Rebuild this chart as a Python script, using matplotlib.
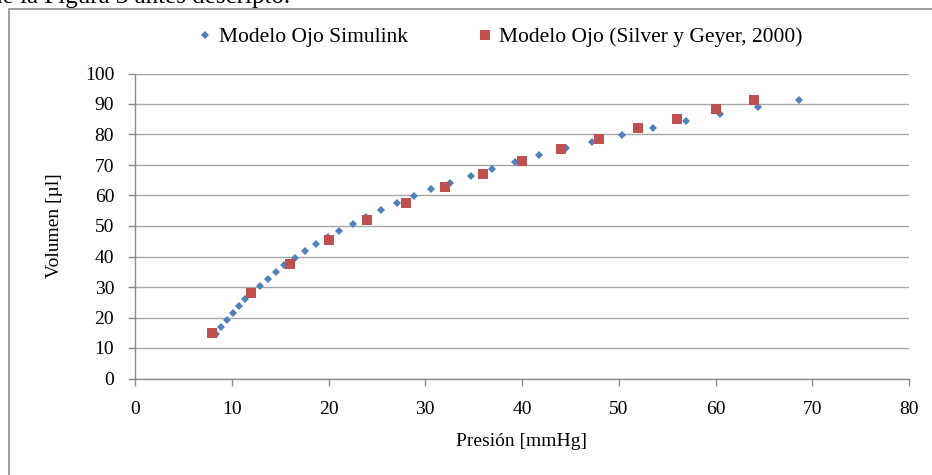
import matplotlib
matplotlib.use("Agg")
import matplotlib.pyplot as plt
from matplotlib.patches import Rectangle

# Modelo Ojo Simulink
sim_presion = [8.4, 8.9, 9.5, 10.1, 10.7, 11.4, 12.1, 12.9, 13.7, 14.6,
               15.4, 16.5, 17.6, 18.7, 19.9, 21.1, 22.5, 23.9, 25.4, 27.1,
               28.8, 30.6, 32.6, 34.7, 36.9, 39.3, 41.8, 44.5, 47.2, 50.3,
               53.5, 56.9, 60.5, 64.4, 68.6]
sim_volumen = [14.6, 17.0, 19.2, 21.6, 23.8, 26.0, 28.2, 30.4, 32.6, 35.0,
               37.3, 39.5, 41.8, 44.0, 46.5, 48.5, 50.8, 53.0, 55.2, 57.4,
               59.7, 62.1, 64.2, 66.5, 68.7, 71.0, 73.2, 75.5, 77.6, 79.9,
               82.2, 84.4, 86.7, 88.9, 91.2]

# Modelo Ojo (Silver y Geyer, 2000)
sg_presion = [8, 12, 16, 20, 24, 28, 32, 36, 40, 44, 48, 52, 56, 60, 64]
sg_volumen = [14.8, 28.0, 37.6, 45.4, 52.0, 57.4, 62.7, 67.0, 71.2, 75.1,
              78.6, 82.0, 85.2, 88.3, 91.2]

x_ticks = [0, 10, 20, 30, 40, 50, 60, 70, 80]
y_ticks = [0, 10, 20, 30, 40, 50, 60, 70, 80, 90, 100]

plt.rcParams["font.family"] = ["Liberation Serif", "DejaVu Serif"]
FS = 14
W, H = 932, 475

fig = plt.figure(figsize=(W / 100, H / 100), dpi=100)

# chart border (cropped at right and bottom)
fig.patches.append(Rectangle((9 / W, -0.1), 1.2, 1 - 9 / H + 0.1,
                             transform=fig.transFigure, fill=False,
                             edgecolor="#8c8c8c", linewidth=1.2))
# cropped paragraph text above the chart
fig.text(-10 / W, 1 - 3 / H, "de la Figura 3 antes descripto.",
         fontsize=18, va="baseline", ha="left")

ax = fig.add_axes([135 / W, 1 - 378.5 / H, (909 - 135) / W, (378.5 - 73.5) / H])

ax.plot(sim_presion, sim_volumen, linestyle="none", marker="D",
        markersize=3.8, color="#4F81BD", markeredgewidth=0,
        label="Modelo Ojo Simulink")
ax.plot(sg_presion, sg_volumen, linestyle="none", marker="s",
        markersize=6.8, color="#C0504D", markeredgewidth=0,
        label="Modelo Ojo (Silver y Geyer, 2000)")

ax.set_xlim(0, 80)
ax.set_ylim(0, 100)
ax.set_xticks(x_ticks)
ax.set_yticks(y_ticks)
ax.yaxis.grid(True, color="#a6a6a6", linewidth=1.0)
ax.set_axisbelow(True)

for s in ["top", "right"]:
    ax.spines[s].set_visible(False)
for s in ["left", "bottom"]:
    ax.spines[s].set_color("#8c8c8c")
    ax.spines[s].set_linewidth(1.0)
ax.tick_params(axis="both", direction="out", length=5, width=1.0,
               color="#8c8c8c", labelsize=FS)
ax.tick_params(axis="y", pad=10)
ax.tick_params(axis="x", pad=11)

ax.set_xlabel("Presión [mmHg]", fontsize=FS, labelpad=11)
ax.set_ylabel("Volumen [µl]", fontsize=FS, labelpad=16)

fig.legend(loc="center", bbox_to_anchor=(500 / W, 1 - 37 / H), ncol=2,
           frameon=False, fontsize=15.5, handlelength=0.7, handletextpad=0.3,
           columnspacing=3.2)

fig.savefig("out.png", dpi=100)
